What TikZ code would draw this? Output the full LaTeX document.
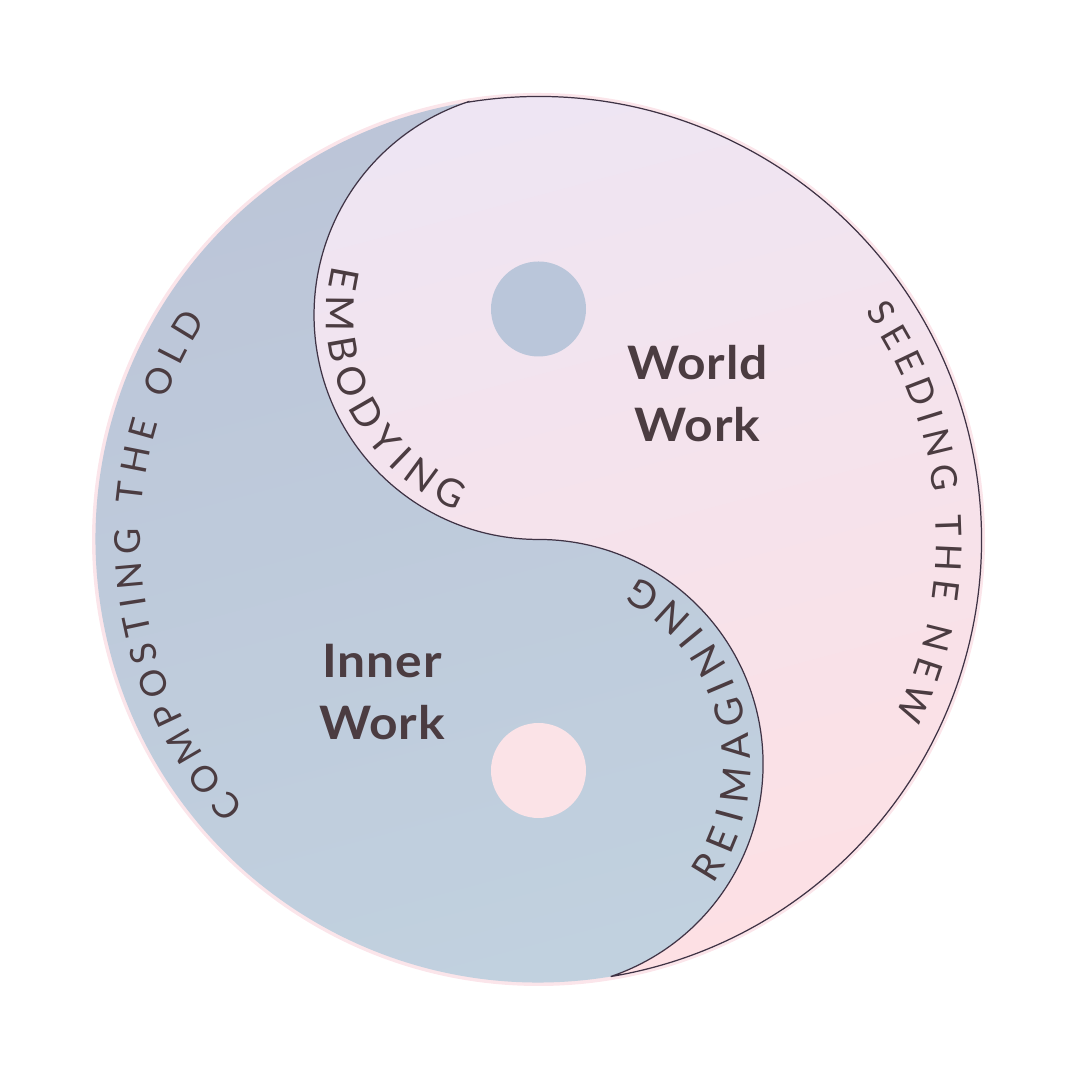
\documentclass[tikz,border=0pt]{standalone}
\usepackage{fontspec}
\setmainfont{Lato}
\newfontfamily\thinfont{Lato}
\newfontfamily\boldwide{Lato Bold}[FakeStretch=1.08, LetterSpace=2]
\usetikzlibrary{decorations.text}
\definecolor{ink}{HTML}{4B3C41}
\definecolor{rim}{HTML}{3F3345}
\definecolor{halo}{HTML}{FBE5EA}
\definecolor{yintop}{HTML}{BCC5D8}
\definecolor{yinbot}{HTML}{C1D1DF}
\definecolor{yangtop}{HTML}{EEE5F3}
\definecolor{yangmid}{HTML}{F8E5EB}
\definecolor{yangbot}{HTML}{FDE0E4}
\definecolor{dotblue}{HTML}{BAC6DA}
\definecolor{dotpink}{HTML}{FBE3E7}

\begin{document}
\begin{tikzpicture}[
    word/.style={font=\boldwide\fontsize{13.1}{17.6}\selectfont, text=ink, align=center, inner sep=0pt},
    rimword/.style={decorate, decoration={text along path, text align=fit to path,
        text={|\thinfont\fontsize{10.2}{12}\selectfont\color{ink}|#1}}},
    swirlword/.style={decorate, decoration={text along path, text align=fit to path,
        text={|\thinfont\fontsize{11}{13}\selectfont\color{ink}|#1}}}
  ]
  \useasboundingbox (0,0) rectangle (10.8,10.8);
  \coordinate (O) at (5.385,5.405);
  \coordinate (U) at (5.385,7.65);
  \coordinate (L) at (5.385,3.16);
  \coordinate (J1) at ([shift={(99.38:4.43)}]O);

  % pink rim round the disc
  \fill[halo] (O) circle[radius=4.465];

  % yin half
  \shade[top color=yintop, bottom color=yinbot, shading angle=15]
    (J1) arc[start angle=99.38, end angle=279.38, radius=4.43]
    arc[start angle=-71.25, end angle=90, radius=2.245]
    arc[start angle=270, end angle=108.75, radius=2.245] -- cycle;
  % yang half, with the outline
  \shadedraw[draw=rim, line width=0.35pt, top color=yangtop, middle color=yangmid, bottom color=yangbot, shading angle=15]
    (J1) arc[start angle=99.38, end angle=-80.62, radius=4.43]
    arc[start angle=-71.25, end angle=90, radius=2.245]
    arc[start angle=270, end angle=108.75, radius=2.245] -- cycle;

  % eyes
  \fill[dotblue] (5.385,7.71) circle[radius=0.475];
  \fill[dotpink] (5.385,3.095) circle[radius=0.475];

  \node[word] (world) at (6.975,6.86) {World\\Work};
  \node[word] (inner) at (3.82,3.876) {Inner\\Work};

  \path[rimword={COMPOSTING THE OLD}] ([shift={(222.3:3.98)}]O) arc[start angle=222.3, end angle=146.7, radius=3.98];
  \path[rimword={SEEDING THE NEW}] ([shift={(34.9:3.98)}]O) arc[start angle=34.9, end angle=-26.3, radius=3.98];
  \path[swirlword={EMBODYING}] ([shift={(166.5:2.12)}]U) arc[start angle=166.5, end angle=247.5, radius=2.12];
  \path[swirlword={REIMAGINING}] ([shift={(-34.7:2.12)}]L) arc[start angle=-34.7, end angle=61.9, radius=2.12];
\end{tikzpicture}
\end{document}
